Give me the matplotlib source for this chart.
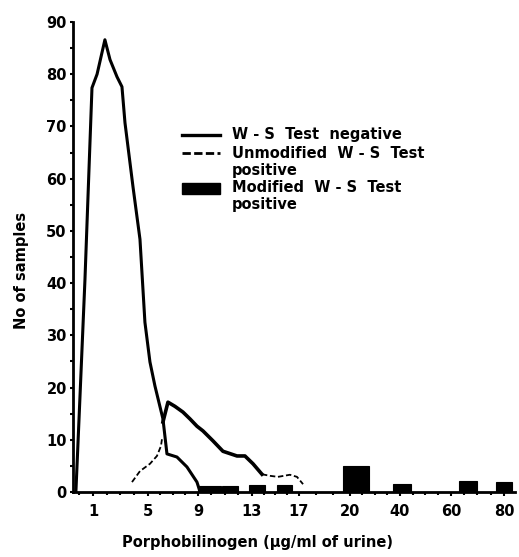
import numpy as np
import matplotlib
matplotlib.use("Agg")
import matplotlib.pyplot as plt
from matplotlib.lines import Line2D
from matplotlib.patches import Rectangle

# ---------------- data ----------------
# W-S Test negative
neg_x = [-0.24, 0.05, 0.42, 0.93, 1.3, 1.87, 2.24, 2.75, 3.11, 3.33, 3.91, 4.42,
         4.78, 5.16, 5.56, 6.2, 6.52, 7.32, 8.12, 8.92, 9.16]
neg_y = [0, 17.8, 40.7, 77.4, 80, 86.6, 82.8, 79.5, 77.6, 70.7, 58.5, 48.4,
         32.5, 24.9, 20.3, 14.0, 7.3, 6.7, 4.8, 1.9, 0]

# Unmodified W-S Test positive
pos_x = [3.84, 4.42, 5.16, 5.72, 6.04, 6.12, 6.2, 6.6, 7.16, 7.8, 8.36, 8.92,
         9.37, 10.11, 10.85, 11.89, 12.48, 13.09, 13.85, 14.53, 15.21, 16.23,
         16.83, 17.24]
pos_y = [1.9, 4.0, 5.4, 6.9, 8.8, 10.1, 13.4, 17.2, 16.4, 15.3, 14.0, 12.6,
         11.7, 9.8, 7.8, 6.9, 6.9, 5.4, 3.4, 3.1, 2.9, 3.3, 2.9, 1.5]

# Modified W-S Test positive (bars: left edge, right edge, height)
mod_left = [9.0, 10.8, 12.8, 15.1, 19.6, 37.2, 63.2, 76.8]
mod_right = [10.7, 12.0, 14.1, 16.4, 27.6, 44.4, 70.0, 83.2]
mod_height = [1.2, 1.2, 1.3, 1.3, 5.0, 1.5, 2.1, 1.9]

x_ticks = [1, 5, 9, 13, 17, 20, 40, 60, 80]
y_ticks = [0, 10, 20, 30, 40, 50, 60, 70, 80, 90]

# ---------------- hand-drawn broken x axis ----------------
SCALE_VALS = [-10, 0, 1, 5, 9, 13, 17, 20, 40, 60, 80, 200]
SCALE_POS = [-58.25, 79.25, 93, 148, 198, 252, 299, 350, 400, 451, 504, 804]


def fwd(x):
    return np.interp(x, SCALE_VALS, SCALE_POS)


def inv(p):
    return np.interp(p, SCALE_POS, SCALE_VALS)


plt.rcParams["font.family"] = "DejaVu Sans"
plt.rcParams["font.weight"] = "bold"
plt.rcParams["axes.labelweight"] = "bold"

W, H = 519, 557
fig = plt.figure(figsize=(W / 100, H / 100), dpi=100)
ax = fig.add_axes([73 / W, 1 - 492 / H, (515 - 73) / W, (492 - 22) / H])
ax.set_xscale("function", functions=(fwd, inv))
ax.set_xlim(-0.45, 84.4)
ax.set_ylim(0, 90)

# curves
ax.plot(neg_x, neg_y, color="black", lw=2.2, solid_joinstyle="round")

px = np.array(pos_x)
py = np.array(pos_y)
solid = (px >= 6.2) & (px <= 13.85)
pre = px <= 6.12
post = px >= 13.85
ax.plot(px[pre], py[pre], color="black", lw=1.3, ls=(0, (3, 1.5)))
ax.plot(px[solid], py[solid], color="black", lw=2.6, solid_joinstyle="round")
ax.plot(px[post], py[post], color="black", lw=1.3, ls=(0, (3, 1.5)))

# bars
for l, r, h in zip(mod_left, mod_right, mod_height):
    ax.bar(l, h, width=r - l, align="edge", color="black", edgecolor="black", lw=0.8)

# axes styling
for s in ["top", "right"]:
    ax.spines[s].set_visible(False)
for s in ["left", "bottom"]:
    ax.spines[s].set_linewidth(2.0)

ax.set_xticks(x_ticks)
ax.set_xticklabels([str(t) for t in x_ticks])
ax.set_xticks([0, 2, 3, 4, 6, 7, 8, 10, 11, 12, 14, 15, 16, 18, 19,
               25, 30, 35, 45, 50, 55, 65, 70, 75], minor=True)
ax.set_yticks(y_ticks)
ax.set_yticks(np.arange(5, 90, 10), minor=True)
ax.tick_params(axis="x", which="major", direction="out", length=3, width=1.5,
               pad=6, labelsize=10.5)
ax.tick_params(axis="x", which="minor", direction="out", length=2.5, width=1.5)
ax.tick_params(axis="y", which="major", direction="out", length=2.5, width=1.5,
               pad=2, labelsize=10.5)
ax.tick_params(axis="y", which="minor", direction="out", length=2, width=1.5)

ax.set_xlabel("Porphobilinogen (µg/ml of urine)", fontsize=10.5, fontweight="bold")
ax.xaxis.set_label_coords((257 - 73) / (515 - 73), -(543 - 492) / (492 - 22))
ax.xaxis.label.set_va("center")
ax.set_ylabel("No of samples", fontsize=10.5, fontweight="bold")
ax.yaxis.set_label_coords((22 - 73) / (515 - 73), (492 - 270) / (492 - 22))
ax.yaxis.label.set_va("center")

# ---------------- legend (drawn in figure pixels) ----------------
def fx(p):
    return p / W


def fy(p):
    return 1 - p / H


fig.add_artist(Line2D([fx(182), fx(220)], [fy(135), fy(135)], transform=fig.transFigure,
                      color="black", lw=2.4))
fig.add_artist(Line2D([fx(182), fx(220)], [fy(153), fy(153)], transform=fig.transFigure,
                      color="black", lw=2.0, ls=(0, (3, 1.2))))
fig.add_artist(Rectangle((fx(182), fy(194)), fx(220) - fx(182), fy(183) - fy(194),
                         transform=fig.transFigure, facecolor="black", edgecolor="black"))

leg_fs = 10.5
fig.text(fx(232), fy(135), "W - S  Test  negative", va="center", ha="left", fontsize=leg_fs)
fig.text(fx(232), fy(153), "Unmodified  W - S  Test", va="center", ha="left", fontsize=leg_fs)
fig.text(fx(232), fy(170), "positive", va="center", ha="left", fontsize=leg_fs)
fig.text(fx(232), fy(188), "Modified  W - S  Test", va="center", ha="left", fontsize=leg_fs)
fig.text(fx(232), fy(205), "positive", va="center", ha="left", fontsize=leg_fs)

fig.savefig("out.png", dpi=100, facecolor="white")
